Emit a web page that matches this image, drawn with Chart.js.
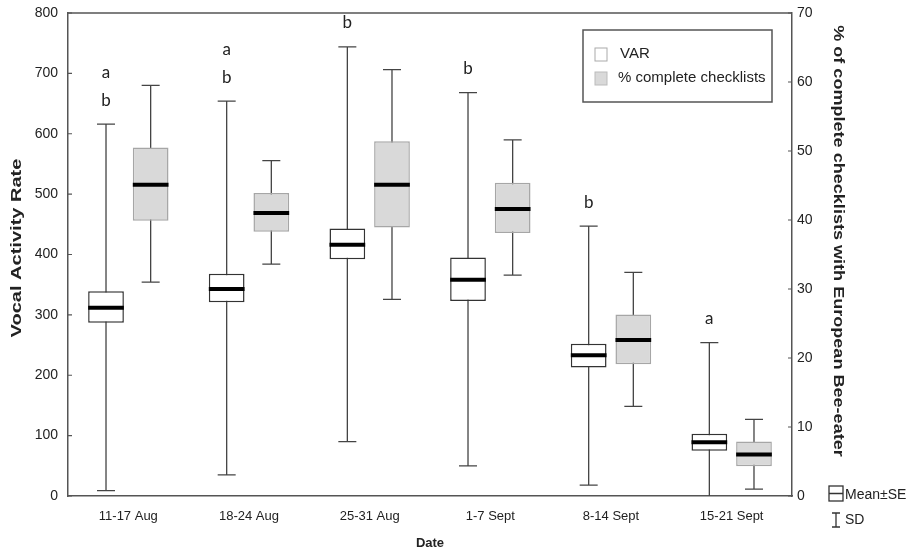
<!DOCTYPE html>
<html>
<head>
<meta charset="utf-8">
<script src="https://cdn.jsdelivr.net/npm/chart.js@4.4.1/dist/chart.umd.min.js"></script>
<style>
  html, body { margin: 0; padding: 0; background: #fff; }
  #wrap { width: 917px; height: 551px; }
</style>
</head>
<body>
<div id="wrap"><canvas id="boxGraph" width="917" height="551"></canvas></div>
<script>
// categories
var dates = ['11-17 Aug', '18-24 Aug', '25-31 Aug', '1-7 Sept', '8-14 Sept', '15-21 Sept'];

// Vocal Activity Rate (left axis)
var varMin  = [9, 35, 90, 50, 18, 0];
var varQ1   = [287, 321, 392, 323, 213, 75];
var varMean = [312, 343, 416, 358, 233, 89];
var varQ3   = [339, 368, 443, 395, 252, 103];
var varMax  = [616, 654, 744, 668, 447, 254];

// % complete checklists (right axis)
var pctMin  = [31.0, 33.6, 28.5, 32.0, 13.0, 1.0];
var pctQ1   = [39.9, 38.3, 38.9, 38.1, 19.1, 4.3];
var pctMean = [45.1, 41.0, 45.1, 41.6, 22.6, 6.0];
var pctQ3   = [50.5, 43.9, 51.4, 45.4, 26.3, 7.9];
var pctMax  = [59.5, 48.6, 61.8, 51.6, 32.4, 11.1];

// significance letters above VAR whiskers (top to bottom)
var letters = [['a', 'b'], ['a', 'b'], ['b'], ['b'], ['b'], ['a']];

var leftTicks = [0, 100, 200, 300, 400, 500, 600, 700, 800];
var rightTicks = [0, 10, 20, 30, 40, 50, 60, 70];

var leftTitle = 'Vocal Activity Rate';
var rightTitle = '% of complete checklists with European Bee-eater';

var axisColor = '#555';
var font = "'Liberation Sans', Arial, sans-serif";

function ranges(lo, hi) {
    return dates.map(function (d, i) { return [lo[i], hi[i]]; });
}

// rotated, slightly stretched axis title (the source image is squeezed sideways)
function sideTitle(ctx, text, x, y, angle, stretch) {
    ctx.save();
    ctx.translate(x, y);
    ctx.rotate(angle);
    ctx.scale(stretch, 1);
    ctx.fillStyle = '#222';
    ctx.font = 'bold 14px ' + font;
    ctx.textAlign = 'center';
    ctx.textBaseline = 'middle';
    ctx.fillText(text, 0, 0);
    ctx.restore();
}

var boxExtras = {
    id: 'boxExtras',
    beforeDatasetsDraw: function (chart) {
        var ctx = chart.ctx;
        chart.data.datasets.forEach(function (ds, d) {
            var meta = chart.getDatasetMeta(d);
            var scale = chart.scales[ds.yAxisID];
            meta.data.forEach(function (bar, i) {
                var yTop = scale.getPixelForValue(ds.whiskMax[i]);
                var yBot = scale.getPixelForValue(ds.whiskMin[i]);
                ctx.save();
                ctx.strokeStyle = '#444';
                ctx.lineWidth = 1.3;
                ctx.beginPath();
                ctx.moveTo(bar.x, yTop); ctx.lineTo(bar.x, yBot);
                ctx.moveTo(bar.x - 9, yTop); ctx.lineTo(bar.x + 9, yTop);
                if (ds.whiskMin[i] > 0) {
                    ctx.moveTo(bar.x - 9, yBot); ctx.lineTo(bar.x + 9, yBot);
                }
                ctx.stroke();
                ctx.restore();
            });
        });
    },
    afterDatasetsDraw: function (chart) {
        var ctx = chart.ctx;
        var area = chart.chartArea;
        // mean lines
        chart.data.datasets.forEach(function (ds, d) {
            var meta = chart.getDatasetMeta(d);
            var scale = chart.scales[ds.yAxisID];
            meta.data.forEach(function (bar, i) {
                var y = scale.getPixelForValue(ds.means[i]);
                ctx.save();
                ctx.strokeStyle = '#000';
                ctx.lineWidth = 4;
                ctx.beginPath();
                ctx.moveTo(bar.x - bar.width / 2, y);
                ctx.lineTo(bar.x + bar.width / 2, y);
                ctx.stroke();
                ctx.restore();
            });
        });
        // letters
        var meta0 = chart.getDatasetMeta(0);
        ctx.save();
        ctx.fillStyle = '#222';
        ctx.font = "17px Lato, 'Open Sans', sans-serif";
        ctx.textAlign = 'center';
        ctx.textBaseline = 'middle';
        letters.forEach(function (ls, i) {
            var x = meta0.data[i].x;
            var yTop = chart.scales.y.getPixelForValue(varMax[i]);
            for (var k = 0; k < ls.length; k++) {
                var y = yTop - 24 - (ls.length - 1 - k) * 28;
                ctx.fillText(ls[k], x, y);
            }
        });
        ctx.restore();

        // frame top line
        ctx.save();
        ctx.strokeStyle = axisColor;
        ctx.lineWidth = 1.5;
        ctx.beginPath();
        ctx.moveTo(area.left, area.top); ctx.lineTo(area.right, area.top);
        ctx.stroke();
        // inward tick marks
        ctx.lineWidth = 1.2;
        ctx.beginPath();
        leftTicks.forEach(function (v) {
            var y = chart.scales.y.getPixelForValue(v);
            ctx.moveTo(area.left, y); ctx.lineTo(area.left + 4, y);
        });
        rightTicks.forEach(function (v) {
            var y = chart.scales.y1.getPixelForValue(v);
            ctx.moveTo(area.right, y); ctx.lineTo(area.right - 4, y);
        });
        ctx.stroke();
        ctx.restore();

        // axis titles
        sideTitle(ctx, leftTitle, 17, 248, -Math.PI / 2, 1.43);
        sideTitle(ctx, rightTitle, 838, 241, Math.PI / 2, 1.29);

        // legend box
        ctx.save();
        ctx.strokeStyle = axisColor;
        ctx.lineWidth = 1.5;
        ctx.strokeRect(583, 30, 189, 72);
        ctx.font = '15px ' + font;
        ctx.textBaseline = 'middle';
        chart.data.datasets.forEach(function (ds, d) {
            var y = 54 + d * 24;
            ctx.fillStyle = ds.legendFill;
            ctx.strokeStyle = ds.legendStroke;
            ctx.lineWidth = 1;
            ctx.fillRect(595, y - 6, 12, 13);
            ctx.strokeRect(595, y - 6, 12, 13);
            ctx.fillStyle = '#222';
            ctx.fillText(ds.label, d === 0 ? 620 : 618, y);
        });
        ctx.restore();

        // Mean±SE / SD key
        ctx.save();
        ctx.strokeStyle = '#333';
        ctx.lineWidth = 1.3;
        ctx.strokeRect(829, 486, 14, 15);
        ctx.beginPath();
        ctx.moveTo(829, 493.5); ctx.lineTo(843, 493.5);
        ctx.moveTo(836, 513); ctx.lineTo(836, 527);
        ctx.moveTo(832, 513); ctx.lineTo(840, 513);
        ctx.moveTo(832, 527); ctx.lineTo(840, 527);
        ctx.stroke();
        ctx.fillStyle = '#222';
        ctx.font = '14px ' + font;
        ctx.textBaseline = 'middle';
        ctx.fillText('Mean\u00b1SE', 845, 495);
        ctx.fillText('SD', 845, 520);
        ctx.restore();
    }
};

var ctx = document.getElementById('boxGraph');
var boxGraph = new Chart(ctx, {
    type: 'bar',
    data: {
        labels: dates,
        datasets: [{
            label: 'VAR',
            data: ranges(varQ1, varQ3),
            means: varMean,
            whiskMin: varMin,
            whiskMax: varMax,
            yAxisID: 'y',
            backgroundColor: '#ffffff',
            borderColor: '#333333',
            borderWidth: 1.5,
            borderSkipped: false,
            legendFill: '#ffffff',
            legendStroke: '#aaaaaa'
        }, {
            label: '% complete checklists',
            data: ranges(pctQ1, pctQ3),
            means: pctMean,
            whiskMin: pctMin,
            whiskMax: pctMax,
            yAxisID: 'y1',
            backgroundColor: '#d9d9d9',
            borderColor: '#a6a6a6',
            borderWidth: 1.5,
            borderSkipped: false,
            legendFill: '#d9d9d9',
            legendStroke: '#bbbbbb'
        }]
    },
    options: {
        responsive: false,
        animation: false,
        categoryPercentage: 0.74,
        barPercentage: 0.8,
        layout: { padding: { top: 13, right: 62, bottom: 0, left: 0 } },
        plugins: {
            legend: { display: false },
            tooltip: { enabled: false }
        },
        scales: {
            x: {
                grid: { display: false, drawTicks: false },
                border: { color: axisColor, width: 1.5 },
                ticks: { color: '#222', font: { family: font, size: 13 }, padding: 13 },
                title: {
                    display: true, text: 'Date', color: '#222',
                    font: { family: font, size: 13, weight: 'bold' },
                    padding: { top: 2, bottom: 0 }
                },
                afterFit: function (s) { s.height = 55; }
            },
            y: {
                position: 'left',
                min: 0, max: 800,
                grid: { display: false, drawTicks: false },
                border: { color: axisColor, width: 1.5 },
                ticks: { stepSize: 100, color: '#222', font: { family: font, size: 14 }, padding: 10 },
                afterFit: function (s) { s.width = 68; s.paddingTop = 0; }
            },
            y1: {
                position: 'right',
                min: 0, max: 70,
                grid: { display: false, drawTicks: false },
                border: { color: axisColor, width: 1.5 },
                ticks: { stepSize: 10, color: '#222', font: { family: font, size: 14 }, padding: 5 },
                afterFit: function (s) { s.width = 63; s.paddingTop = 0; }
            }
        }
    },
    plugins: [boxExtras]
});
</script>
</body>
</html>
